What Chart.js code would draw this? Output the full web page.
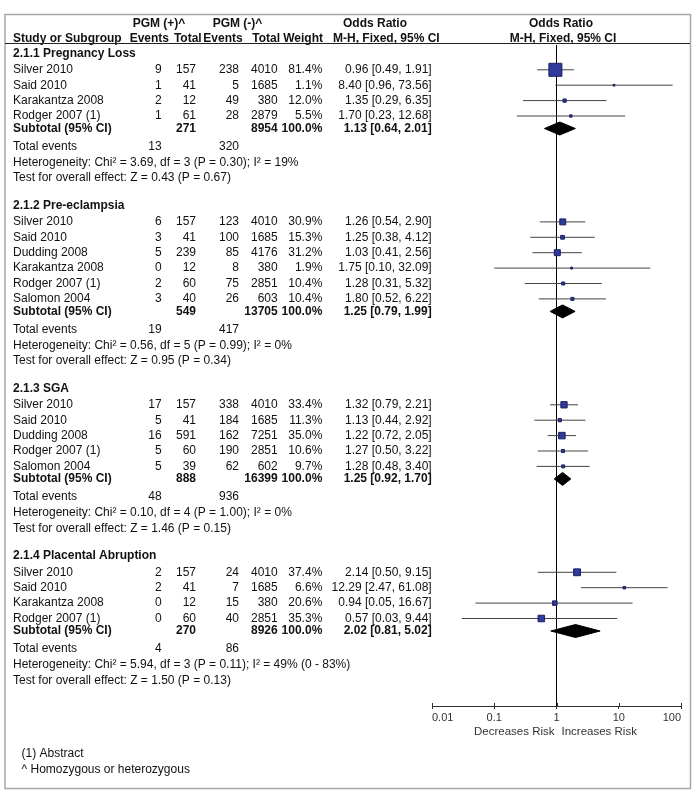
<!DOCTYPE html>
<html>
<head>
<meta charset="utf-8">
<title>PGM forest plot</title>
<script src="https://cdn.jsdelivr.net/npm/chart.js@4.4.1/dist/chart.umd.min.js"></script>
<style>
    body { margin: 0; background: #fff; }
    canvas { display: block; }
</style>
</head>
<body>
<canvas id="forest" width="700" height="800"></canvas>
<script>
/**
 * Forest plot: PGM (+) vs PGM (-)
 */

// Subgroups
const groupTitles = ['2.1.1 Pregnancy Loss', '2.1.2 Pre-eclampsia', '2.1.3 SGA', '2.1.4 Placental Abruption'];

// Studies (flat, with group index)
const studyGroup = [0, 0, 0, 0, 1, 1, 1, 1, 1, 1, 2, 2, 2, 2, 2, 3, 3, 3, 3];
const studyNames = [
    'Silver 2010', 'Said 2010', 'Karakantza 2008', 'Rodger 2007 (1)',
    'Silver 2010', 'Said 2010', 'Dudding 2008', 'Karakantza 2008', 'Rodger 2007 (1)', 'Salomon 2004',
    'Silver 2010', 'Said 2010', 'Dudding 2008', 'Rodger 2007 (1)', 'Salomon 2004',
    'Silver 2010', 'Said 2010', 'Karakantza 2008', 'Rodger 2007 (1)'
];
const eventsPos = [9, 1, 2, 1, 6, 3, 5, 0, 2, 3, 17, 5, 16, 5, 5, 2, 2, 0, 0];
const totalPos = [157, 41, 12, 61, 157, 41, 239, 12, 60, 40, 157, 41, 591, 60, 39, 157, 41, 12, 60];
const eventsNeg = [238, 5, 49, 28, 123, 100, 85, 8, 75, 26, 338, 184, 162, 190, 62, 24, 7, 15, 40];
const totalNeg = [4010, 1685, 380, 2879, 4010, 1685, 4176, 380, 2851, 603, 4010, 1685, 7251, 2851, 602, 4010, 1685, 380, 2851];
const weights = [81.4, 1.1, 12.0, 5.5, 30.9, 15.3, 31.2, 1.9, 10.4, 10.4, 33.4, 11.3, 35.0, 10.6, 9.7, 37.4, 6.6, 20.6, 35.3];
const oddsRatio = [0.96, 8.40, 1.35, 1.70, 1.26, 1.25, 1.03, 1.75, 1.28, 1.80, 1.32, 1.13, 1.22, 1.27, 1.28, 2.14, 12.29, 0.94, 0.57];
const ciLow = [0.49, 0.96, 0.29, 0.23, 0.54, 0.38, 0.41, 0.10, 0.31, 0.52, 0.79, 0.44, 0.72, 0.50, 0.48, 0.50, 2.47, 0.05, 0.03];
const ciHigh = [1.91, 73.56, 6.35, 12.68, 2.90, 4.12, 2.56, 32.09, 5.32, 6.22, 2.21, 2.92, 2.05, 3.22, 3.40, 9.15, 61.08, 16.67, 9.44];

// Subtotals
const subTotalPos = [271, 549, 888, 270];
const subTotalNeg = [8954, 13705, 16399, 8926];
const subOR = [1.13, 1.25, 1.25, 2.02];
const subLow = [0.64, 0.79, 0.92, 0.81];
const subHigh = [2.01, 1.99, 1.70, 5.02];
const subEventsPos = [13, 19, 48, 4];
const subEventsNeg = [320, 417, 936, 86];
const heterogeneity = [
    'Chi² = 3.69, df = 3 (P = 0.30); I² = 19%',
    'Chi² = 0.56, df = 5 (P = 0.99); I² = 0%',
    'Chi² = 0.10, df = 4 (P = 1.00); I² = 0%',
    'Chi² = 5.94, df = 3 (P = 0.11); I² = 49% (0 - 83%)'
];
const overallEffect = ['Z = 0.43 (P = 0.67)', 'Z = 0.95 (P = 0.34)', 'Z = 1.46 (P = 0.15)', 'Z = 1.50 (P = 0.13)'];

// Axis
const tickValues = [0.01, 0.1, 1, 10, 100];
const tickLabels = ['0.01', '0.1', '1', '10', '100'];

const footnotes = ['(1) Abstract', '^ Homozygous or heterozygous'];

const FONT = "'Liberation Sans', Arial, sans-serif";
const INK = '#111';

// Row layout (vertical gaps between row types)
const GAP = {
    'group-study': 16.3, 'study-study': 15.4, 'study-subtotal': 12.5,
    'subtotal-events': 18, 'events-het': 16, 'het-test': 15.6, 'test-group': 27.5
};
const rows = [];
const studyY = [];
const subY = [];
let curY = 53.5, prevType = null;

function addRow(row) {
    if (prevType) curY += GAP[prevType + '-' + row.type];
    row.y = curY;
    prevType = row.type;
    rows.push(row);
    return curY;
}

groupTitles.forEach((title, g) => {
    addRow({ type: 'group', g });
    studyGroup.forEach((sg, i) => {
        if (sg === g) studyY[i] = addRow({ type: 'study', i });
    });
    subY[g] = addRow({ type: 'subtotal', g });
    addRow({ type: 'events', g });
    addRow({ type: 'het', g });
    addRow({ type: 'test', g });
});

// Column anchors for the table text
const COL = { name: 13, e1: 161.7, n1: 196, e2: 239, n2: 277.7, w: 322.3, or: 431.7 };

const fmtCI = (o, l, h) => `${o.toFixed(2)} [${l.toFixed(2)}, ${h.toFixed(2)}]`;

// Datasets
const datasets = [];

// squares (drawn on top)
datasets.push({
    data: oddsRatio.map((o, i) => ({ x: o, y: studyY[i] })),
    pointStyle: 'rect',
    pointRadius: ctx => (1.6 + 0.14 * weights[ctx.dataIndex]) / Math.SQRT2,
    backgroundColor: '#2F3A9C',
    borderColor: '#1B1F5E',
    borderWidth: 1,
    showLine: false,
    order: 0
});

// diamonds
subOR.forEach((o, g) => {
    const y = subY[g], h = 6.5;
    datasets.push({
        data: [
            { x: subLow[g], y: y }, { x: o, y: y - h }, { x: subHigh[g], y: y },
            { x: o, y: y + h }, { x: subLow[g], y: y }
        ],
        showLine: true,
        fill: 'shape',
        backgroundColor: '#000',
        borderColor: '#000',
        borderWidth: 1,
        pointRadius: 0,
        tension: 0,
        order: 1
    });
});

// confidence interval whiskers
oddsRatio.forEach((o, i) => {
    datasets.push({
        data: [{ x: ciLow[i], y: studyY[i] }, { x: ciHigh[i], y: studyY[i] }],
        showLine: true,
        borderColor: '#444',
        borderWidth: 1,
        pointRadius: 0,
        order: 2
    });
});

// line of no effect
datasets.push({
    data: [{ x: 1, y: 45 }, { x: 1, y: 706 }],
    showLine: true,
    borderColor: '#000',
    borderWidth: 1,
    pointRadius: 0,
    order: 3
});

function txt(ctx, s, x, y, align, bold, size, color) {
    ctx.font = `${bold ? 'bold ' : ''}${size || 12}px ${FONT}`;
    ctx.textAlign = align || 'left';
    ctx.textBaseline = 'middle';
    ctx.fillStyle = color || INK;
    ctx.fillText(s, x, y);
}

const tablePlugin = {
    id: 'forestTable',
    afterDraw(chart) {
        const ctx = chart.ctx;
        const xs = chart.scales.x;
        const ys = chart.scales.y;
        const area = chart.chartArea;
        ctx.save();

        // frame
        ctx.strokeStyle = '#a8a8a8';
        ctx.lineWidth = 1.5;
        ctx.strokeRect(5, 14.5, 685.5, 774);

        // header
        txt(ctx, 'PGM (+)^', 159, 24, 'center', true);
        txt(ctx, 'PGM (-)^', 237.5, 24, 'center', true);
        txt(ctx, 'Odds Ratio', 343, 24, 'left', true);
        txt(ctx, 'Odds Ratio', 561, 24, 'center', true);
        txt(ctx, 'Study or Subgroup', 13, 38.5, 'left', true);
        txt(ctx, 'Events', 169, 38.5, 'right', true);
        txt(ctx, 'Total', 201.7, 38.5, 'right', true);
        txt(ctx, 'Events', 242.7, 38.5, 'right', true);
        txt(ctx, 'Total', 280, 38.5, 'right', true);
        txt(ctx, 'Weight', 323, 38.5, 'right', true);
        txt(ctx, 'M-H, Fixed, 95% CI', 333, 38.5, 'left', true);
        txt(ctx, 'M-H, Fixed, 95% CI', 563, 38.5, 'center', true);

        ctx.strokeStyle = '#222';
        ctx.lineWidth = 1;
        ctx.beginPath();
        ctx.moveTo(5, 43.5);
        ctx.lineTo(690, 43.5);
        ctx.stroke();

        // table rows
        rows.forEach(r => {
            const y = ys.getPixelForValue(r.y);
            if (r.type === 'group') {
                txt(ctx, groupTitles[r.g], COL.name, y, 'left', true);
            } else if (r.type === 'study') {
                const i = r.i;
                txt(ctx, studyNames[i], COL.name, y);
                txt(ctx, String(eventsPos[i]), COL.e1, y, 'right');
                txt(ctx, String(totalPos[i]), COL.n1, y, 'right');
                txt(ctx, String(eventsNeg[i]), COL.e2, y, 'right');
                txt(ctx, String(totalNeg[i]), COL.n2, y, 'right');
                txt(ctx, weights[i].toFixed(1) + '%', COL.w, y, 'right');
                txt(ctx, fmtCI(oddsRatio[i], ciLow[i], ciHigh[i]), COL.or, y, 'right');
            } else if (r.type === 'subtotal') {
                const g = r.g;
                txt(ctx, 'Subtotal (95% CI)', COL.name, y, 'left', true);
                txt(ctx, String(subTotalPos[g]), COL.n1, y, 'right', true);
                txt(ctx, String(subTotalNeg[g]), COL.n2, y, 'right', true);
                txt(ctx, '100.0%', COL.w, y, 'right', true);
                txt(ctx, fmtCI(subOR[g], subLow[g], subHigh[g]), COL.or, y, 'right', true);
            } else if (r.type === 'events') {
                txt(ctx, 'Total events', COL.name, y);
                txt(ctx, String(subEventsPos[r.g]), COL.e1, y, 'right');
                txt(ctx, String(subEventsNeg[r.g]), COL.e2, y, 'right');
            } else if (r.type === 'het') {
                txt(ctx, 'Heterogeneity: ' + heterogeneity[r.g], COL.name, y);
            } else if (r.type === 'test') {
                txt(ctx, 'Test for overall effect: ' + overallEffect[r.g], COL.name, y);
            }
        });

        // upper half of the axis ticks
        ctx.strokeStyle = '#333';
        ctx.lineWidth = 1;
        tickValues.forEach(v => {
            const px = Math.round(xs.getPixelForValue(v)) + 0.5;
            ctx.beginPath();
            ctx.moveTo(px, area.bottom - 3);
            ctx.lineTo(px, area.bottom);
            ctx.stroke();
        });

        // axis captions
        const x1 = xs.getPixelForValue(1);
        txt(ctx, 'Decreases Risk', x1 - 2, 731.5, 'right', false, 11.5, '#333');
        txt(ctx, 'Increases Risk', x1 + 5, 731.5, 'left', false, 11.5, '#333');

        // footnotes
        footnotes.forEach((f, k) => txt(ctx, f, 21.5, 753.5 + k * 16, 'left'));

        ctx.restore();
    }
};

Chart.defaults.font.family = FONT;

new Chart(document.getElementById('forest'), {
    type: 'scatter',
    data: { datasets },
    options: {
        responsive: false,
        animation: false,
        layout: { padding: { left: 432, right: 19, top: 45, bottom: 54 } },
        plugins: {
            legend: { display: false },
            tooltip: { enabled: false }
        },
        scales: {
            x: {
                type: 'logarithmic',
                min: 0.01,
                max: 100,
                position: 'bottom',
                afterBuildTicks: s => { s.ticks = tickValues.map(v => ({ value: v })); },
                afterFit: s => { s.height = 40; },
                grid: { drawOnChartArea: false, drawTicks: true, tickLength: 3, color: '#333' },
                border: { display: true, color: '#333', width: 1 },
                ticks: {
                    align: 'inner',
                    padding: 2,
                    autoSkip: false,
                    maxRotation: 0,
                    color: '#333',
                    font: { family: FONT, size: 11 },
                    callback: (v, i) => tickLabels[i]
                }
            },
            y: {
                type: 'linear',
                display: false,
                reverse: true,
                min: 45,
                max: 706
            }
        }
    },
    plugins: [tablePlugin]
});
</script>
</body>
</html>
